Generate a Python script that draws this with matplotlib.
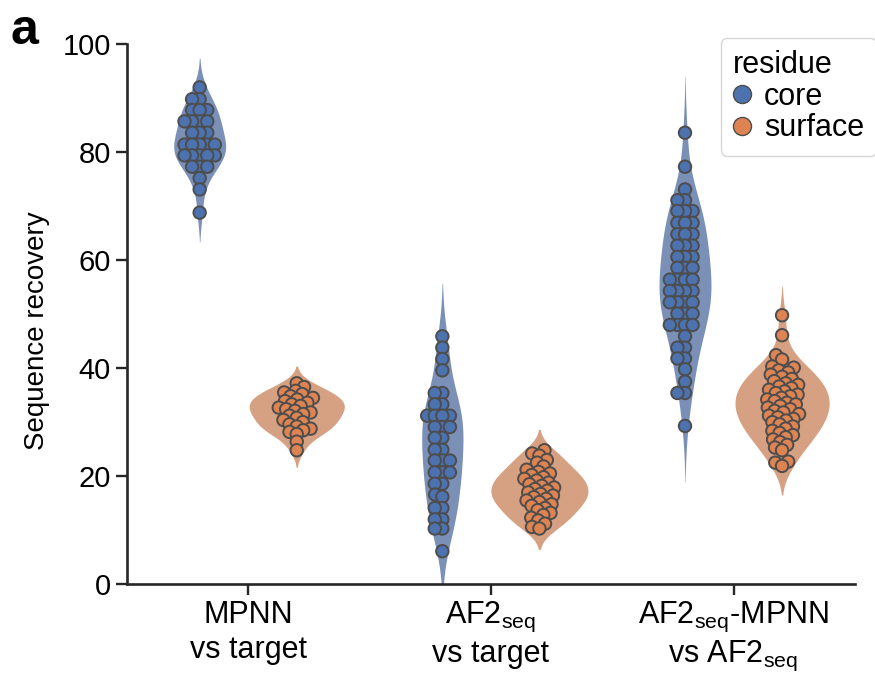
import numpy as np
import pandas as pd
import matplotlib.pyplot as plt
import seaborn as sns
from matplotlib.lines import Line2D

groups = ["MPNN\nvs target",
          "AF2$_{\\mathregular{seq}}$\nvs target",
          "AF2$_{\\mathregular{seq}}$-MPNN\nvs AF2$_{\\mathregular{seq}}$"]
residues = ["core", "surface"]

core_mpnn = [92.0, 89.8, 89.8, 87.8, 87.8, 87.8, 85.7, 85.7, 85.7, 85.7, 83.6, 83.6,
             83.6, 81.4, 81.4, 81.4, 81.4, 81.4, 79.4, 79.4, 79.4, 79.4, 79.4, 77.3,
             77.3, 77.3, 75.2, 73.1, 68.8]
surf_mpnn = [37.2, 36.5, 35.8, 35.5, 35.2, 34.8, 34.5, 34.2, 33.9, 33.6, 33.3, 33.0,
             32.7, 32.4, 32.1, 31.8, 31.5, 31.2, 30.8, 30.4, 30.0, 29.6, 29.2, 28.8,
             28.5, 28.2, 27.8, 26.4, 24.8]
core_af2 = [45.9, 43.8, 41.7, 39.6, 35.4, 35.4, 33.3, 33.3, 31.2, 31.2, 31.2, 31.2,
            29.1, 29.1, 29.1, 27.1, 27.1, 24.9, 24.9, 22.9, 22.9, 22.9, 20.7, 20.7,
            20.7, 18.6, 18.6, 16.6, 16.2, 14.1, 14.1, 12.0, 12.0, 10.3, 10.3, 6.1]
surf_af2 = [24.8, 24.2, 23.8, 23.0, 22.5, 21.8, 21.2, 20.8, 20.5, 20.2, 19.8, 19.5,
            19.2, 18.8, 18.5, 18.2, 17.9, 17.6, 17.3, 17.0, 16.7, 16.4, 16.1, 15.8,
            15.5, 15.2, 14.8, 14.5, 14.1, 13.7, 13.2, 12.8, 12.3, 11.8, 11.2, 10.6, 10.3]
core_comb = [83.6, 77.3, 73.1, 71.1, 71.1, 69.1, 69.1, 69.1, 66.9, 66.9, 66.9, 64.8,
             64.8, 64.8, 62.7, 62.7, 62.7, 60.6, 60.6, 60.6, 58.6, 58.6, 58.6, 56.4,
             56.4, 56.4, 56.4, 54.3, 54.3, 54.3, 54.3, 52.2, 52.2, 52.2, 52.2, 50.1,
             50.1, 50.1, 48.0, 48.0, 48.0, 48.0, 45.9, 43.8, 43.8, 41.8, 41.8, 39.8,
             37.5, 35.4, 35.4, 29.3]
surf_comb = [49.8, 46.1, 42.4, 41.6, 40.3, 40.1, 39.6, 39.2, 38.8, 38.4, 38.0, 37.6,
             37.2, 36.9, 36.6, 36.3, 36.0, 35.7, 35.4, 35.1, 34.8, 34.5, 34.2, 33.9,
             33.6, 33.3, 33.0, 32.7, 32.4, 32.1, 31.8, 31.5, 31.2, 30.9, 30.6, 30.3,
             30.0, 29.6, 29.2, 28.8, 28.4, 28.0, 27.6, 27.2, 26.8, 26.3, 25.8, 25.3,
             24.8, 22.7, 22.5, 21.9]

core_sets = [core_mpnn, core_af2, core_comb]
surf_sets = [surf_mpnn, surf_af2, surf_comb]

rows = []
for g, c, s in zip(groups, core_sets, surf_sets):
    rows += [{"group": g, "residue": "core", "recovery": v} for v in c]
    rows += [{"group": g, "residue": "surface", "recovery": v} for v in s]
df = pd.DataFrame(rows)

sns.set_style("ticks")
plt.rcParams['font.family'] = ['Liberation Sans', 'DejaVu Sans']
plt.rcParams['mathtext.fontset'] = 'custom'
plt.rcParams['mathtext.rm'] = 'Liberation Sans'
plt.rcParams['text.color'] = 'black'
plt.rcParams['axes.labelcolor'] = 'black'
plt.rcParams['xtick.labelcolor'] = 'black'
plt.rcParams['ytick.labelcolor'] = 'black'

pal = {"core": "#4C72B0", "surface": "#DD8452"}
# max half-width of each violin (x units)
half_w = {"core": [0.107, 0.085, 0.107], "surface": [0.196, 0.2, 0.194]}
offset = {"core": -0.2, "surface": 0.2}

fig = plt.figure(figsize=(8.75, 6.73), dpi=100)
ax = fig.add_axes([0.145, 0.132, 0.832, 0.8024])

sns.swarmplot(data=df, x="group", y="recovery", hue="residue", order=groups,
              hue_order=residues, palette=pal, dodge=True, size=3.8,
              edgecolor="0.3", linewidth=1.4, ax=ax, legend=False)

# violins: gaussian kde, scott bandwidth, cut = 2
for r, sets in (("core", core_sets), ("surface", surf_sets)):
    vcol = sns.desaturate(pal[r], 0.75)
    for i, vals in enumerate(sets):
        v = np.asarray(vals)
        bw = v.std(ddof=1) * len(v) ** (-1 / 5)
        yy = np.linspace(v.min() - 2 * bw, v.max() + 2 * bw, 300)
        dens = np.exp(-0.5 * ((yy[:, None] - v[None, :]) / bw) ** 2).sum(axis=1)
        dens = dens / dens.max() * half_w[r][i]
        x0 = i + offset[r]
        ax.fill_betweenx(yy, x0 - dens, x0 + dens, color=vcol, alpha=0.8,
                         linewidth=0, zorder=0.5)

ax.set_xlim(-0.5, 2.5)
ax.set_ylim(0, 100)
ax.set_yticks([0, 20, 40, 60, 80, 100])
ax.set_xticks([0, 1, 2])
ax.set_xticklabels(groups)
ax.set_xlabel("")
ax.set_ylabel("Sequence recovery", fontsize=20)
ax.yaxis.set_label_coords(-0.106, 0.47)
ax.tick_params(labelsize=21, width=1.7, length=8, color="0.15")
ax.tick_params(axis="x", labelsize=22)
sns.despine(ax=ax)
for s in ["left", "bottom"]:
    ax.spines[s].set_linewidth(1.9)
    ax.spines[s].set_color("0.15")

# lay out the swarm with the small markers, then draw the markers larger
fig.canvas.draw()
for coll in ax.collections:
    if "draw" in coll.__dict__:
        del coll.draw
        coll.set_sizes([80])

handles = [Line2D([], [], marker="o", ls="", markersize=13, markerfacecolor=pal[r],
                  markeredgecolor="0.3", markeredgewidth=1.0) for r in residues]
leg = fig.legend(handles, residues, title="residue", loc="upper left",
                 bbox_to_anchor=(0.824, 0.9435), fontsize=22, title_fontsize=22,
                 alignment="left", handletextpad=0.4, borderpad=0.4,
                 labelspacing=0.05, handlelength=0.6, borderaxespad=0)
leg.get_frame().set_edgecolor("0.8")

fig.text(0.012, 0.954, "a", fontsize=36, fontweight="bold", va="center")

fig.savefig("out.png", dpi=100)
